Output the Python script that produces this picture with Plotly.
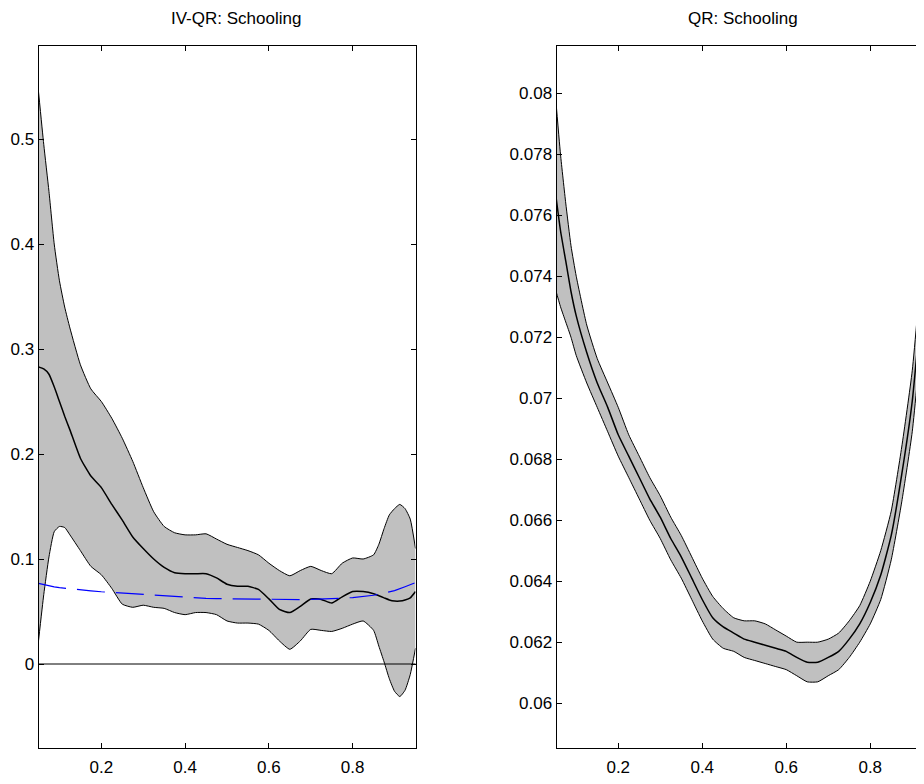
import plotly.graph_objects as go

# ---------------- data ----------------
# IV-QR (left panel)
tau_iv = [0.05, 0.0625, 0.075, 0.0875, 0.1, 0.1125, 0.125, 0.15, 0.175, 0.2,
          0.225, 0.25, 0.275, 0.3, 0.325, 0.35, 0.375, 0.4, 0.425, 0.45,
          0.475, 0.5, 0.525, 0.55, 0.575, 0.6, 0.625, 0.65, 0.675, 0.7,
          0.725, 0.75, 0.775, 0.8, 0.825, 0.85, 0.8625, 0.875, 0.8875, 0.9,
          0.9125, 0.925, 0.9375, 0.95]
iv_upper = [0.545, 0.495, 0.450, 0.400, 0.365, 0.340, 0.320, 0.285, 0.262, 0.250,
            0.234, 0.215, 0.193, 0.168, 0.145, 0.131, 0.125, 0.123, 0.123, 0.124,
            0.119, 0.114, 0.111, 0.108, 0.104, 0.096, 0.089, 0.084, 0.089, 0.093,
            0.089, 0.086, 0.096, 0.101, 0.100, 0.104, 0.114, 0.129, 0.142, 0.148,
            0.152, 0.148, 0.138, 0.110]
iv_median = [0.283, 0.281, 0.276, 0.264, 0.250, 0.236, 0.223, 0.196, 0.179, 0.168,
             0.152, 0.137, 0.121, 0.110, 0.100, 0.092, 0.087, 0.086, 0.086, 0.086,
             0.082, 0.076, 0.074, 0.074, 0.071, 0.062, 0.052, 0.049, 0.055, 0.062,
             0.0615, 0.058, 0.064, 0.069, 0.069, 0.067, 0.065, 0.063, 0.061, 0.060,
             0.060, 0.061, 0.063, 0.069]
iv_lower = [0.022, 0.066, 0.102, 0.126, 0.131, 0.130, 0.123, 0.108, 0.093, 0.085,
            0.072, 0.057, 0.054, 0.056, 0.054, 0.053, 0.049, 0.047, 0.049, 0.049,
            0.047, 0.041, 0.039, 0.039, 0.038, 0.032, 0.022, 0.014, 0.022, 0.033,
            0.032, 0.031, 0.034, 0.038, 0.041, 0.032, 0.017, 0.002, -0.014, -0.026,
            -0.031, -0.025, -0.010, 0.015]

# QR (right panel)
tau_qr = [0.05, 0.0625, 0.075, 0.0875, 0.1, 0.125, 0.15, 0.175, 0.2, 0.225,
          0.25, 0.275, 0.3, 0.325, 0.35, 0.375, 0.4, 0.425, 0.45, 0.475,
          0.5, 0.525, 0.55, 0.575, 0.6, 0.625, 0.65, 0.675, 0.7, 0.725,
          0.75, 0.775, 0.8, 0.825, 0.85, 0.875, 0.9, 0.925, 0.95]
qr_upper = [0.0800, 0.0780, 0.0764, 0.0750, 0.0740, 0.0724, 0.0713, 0.0705, 0.0697, 0.0688,
            0.0681, 0.0674, 0.0668, 0.0661, 0.0655, 0.0648, 0.0641, 0.0635, 0.0631, 0.0628,
            0.0627, 0.0627, 0.0626, 0.0624, 0.0622, 0.0620, 0.0620, 0.0620, 0.0621, 0.0623,
            0.0627, 0.0632, 0.0640, 0.0650, 0.0663, 0.0684, 0.0709, 0.0748, 0.0795]
qr_median = [0.0768, 0.0755, 0.0745, 0.0735, 0.0727, 0.0715, 0.0705, 0.0697, 0.0688, 0.0681,
             0.0674, 0.0667, 0.0661, 0.0654, 0.0648, 0.0641, 0.0634, 0.0628, 0.0625, 0.0623,
             0.0621, 0.0620, 0.0619, 0.0618, 0.0617, 0.0615, 0.06134, 0.06134, 0.0615, 0.0617,
             0.0621, 0.0626, 0.0633, 0.0642, 0.0655, 0.0675, 0.0699, 0.0736, 0.0775]
qr_lower = [0.0736, 0.0730, 0.0725, 0.0720, 0.0714, 0.0705, 0.0697, 0.0689, 0.0681, 0.0674,
            0.0667, 0.0660, 0.0654, 0.0647, 0.0641, 0.0634, 0.0627, 0.0621, 0.0618, 0.0617,
            0.0615, 0.0614, 0.0613, 0.0612, 0.0611, 0.0609, 0.0607, 0.0607, 0.0609, 0.0611,
            0.0615, 0.0620, 0.0626, 0.0634, 0.0647, 0.0666, 0.0689, 0.0724, 0.0755]

x_ticks = [0.2, 0.4, 0.6, 0.8]
x_ticktext = ["0.2", "0.4", "0.6", "0.8"]
iv_yticks = [0, 0.1, 0.2, 0.3, 0.4, 0.5]
iv_yticktext = ["0", "0.1", "0.2", "0.3", "0.4", "0.5"]
qr_yticks = [0.06, 0.062, 0.064, 0.066, 0.068, 0.07, 0.072, 0.074, 0.076, 0.078, 0.08]
qr_yticktext = ["0.06", "0.062", "0.064", "0.066", "0.068", "0.07", "0.072",
                "0.074", "0.076", "0.078", "0.08"]
titles = ["IV-QR: Schooling", "QR: Schooling"]

# ---------------- figure ----------------
OFF = 8                      # default page body margin offsets the figure by 8px
W, H = 924 - OFF, 784 - 2 * OFF
FONT = "Liberation Sans, Arial, Helvetica, sans-serif"
GRAY = "#c0c0c0"
edge = dict(color="black", width=1, shape="spline", smoothing=0.5)
mid = dict(color="black", width=1.5, shape="spline", smoothing=0.5)

fig = go.Figure()

def band(tau, lo, hi, med, xa, ya):
    fig.add_trace(go.Scatter(x=tau, y=lo, mode="lines", line=edge, xaxis=xa, yaxis=ya,
                             showlegend=False, hoverinfo="skip"))
    fig.add_trace(go.Scatter(x=tau, y=hi, mode="lines", line=edge, fill="tonexty",
                             fillcolor=GRAY, xaxis=xa, yaxis=ya,
                             showlegend=False, hoverinfo="skip"))
    fig.add_trace(go.Scatter(x=tau, y=med, mode="lines", line=mid, xaxis=xa, yaxis=ya,
                             showlegend=False, hoverinfo="skip"))

band(tau_iv, iv_lower, iv_upper, iv_median, "x", "y")
# QR estimate overlaid on IV-QR panel (blue dashed)
fig.add_trace(go.Scatter(x=tau_qr, y=qr_median, mode="lines",
                         line=dict(color="#0000ff", width=1.2, dash="28px,11px"),
                         xaxis="x", yaxis="y", showlegend=False, hoverinfo="skip"))
band(tau_qr, qr_lower, qr_upper, qr_median, "x2", "y2")

tickfont = dict(family=FONT, size=17, color="black")
common = dict(showline=True, linecolor="black", linewidth=1, showgrid=False,
              zeroline=False, ticks="inside", ticklen=5, tickcolor="black",
              tickwidth=1, tickfont=tickfont, automargin=False)

top = 46 - OFF
bottom_px = 748 - OFF
plot_h = bottom_px - top
L1, R1 = 38.5 - OFF, 415.5 - OFF
L2 = 556.5 - OFF
x2_end = 0.053 + (W - L2) / 420.0

fig.update_layout(
    width=W, height=H,
    margin=dict(l=0, r=0, t=top, b=H - bottom_px),
    paper_bgcolor="white", plot_bgcolor="white",
    xaxis=dict(domain=[L1 / W, R1 / W], range=[0.05, 0.95], anchor="y",
               tickvals=x_ticks, ticktext=x_ticktext, mirror="ticks",
               ticklabelstandoff=4, **common),
    yaxis=dict(domain=[0, 1], range=[-0.08, 0.5886], anchor="x",
               tickvals=iv_yticks, ticktext=iv_yticktext, mirror="ticks", **common),
    xaxis2=dict(domain=[L2 / W, 1.0], range=[0.053, x2_end], anchor="y2",
                tickvals=x_ticks, ticktext=x_ticktext, mirror="ticks",
                ticklabelstandoff=4, **common),
    yaxis2=dict(domain=[0, 1], range=[0.05853, 0.08155], anchor="x2",
                tickvals=qr_yticks, ticktext=qr_yticktext, mirror=False, **common),
)

# zero reference line in left panel
fig.add_shape(type="line", xref="x domain", x0=0, x1=1, yref="y", y0=0, y1=0,
              line=dict(color="black", width=1), layer="above")

for tx, cx in zip(titles, [236 - OFF, 742.5 - OFF]):
    fig.add_annotation(text=tx, xref="paper", yref="paper", x=cx / W,
                       y=1 + (top - (19 - OFF)) / plot_h, xanchor="center", yanchor="middle",
                       showarrow=False, font=dict(family=FONT, size=17, color="black"))

fig.write_html("out.html")
